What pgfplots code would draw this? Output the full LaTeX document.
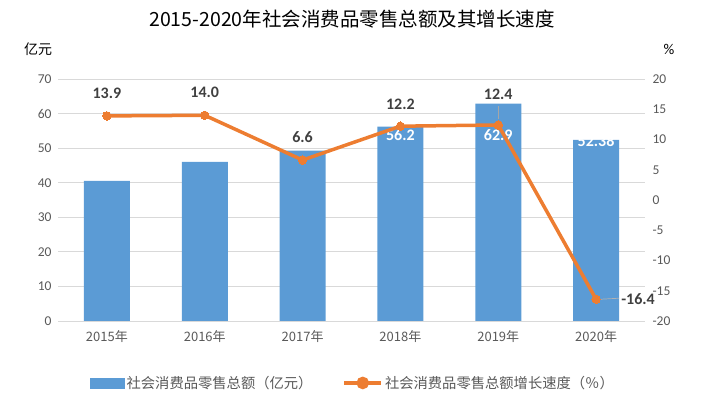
\documentclass[border=0pt]{standalone}
\usepackage{pgfplots}
\pgfplotsset{compat=1.18}
\usepackage{fontspec}
\setmainfont{Carlito}
\newfontfamily\cjk{Noto Sans CJK SC}
\definecolor{barblue}{HTML}{5B9BD5}
\definecolor{lineorange}{HTML}{ED7D31}
\definecolor{gridgray}{HTML}{D9D9D9}
\definecolor{tickgray}{HTML}{595959}
\definecolor{labgray}{HTML}{404040}
\begin{document}
\begin{tikzpicture}[x=1pt,y=1pt]
\path (0,0) rectangle (706,409);
\node[font=\cjk\fontsize{19.5}{19.5}\selectfont, text=black] at (352,390) {2015-2020年社会消费品零售总额及其增长速度};
\node[font=\cjk\fontsize{14}{14}\selectfont] at (38,360) {亿元};
\node[font=\fontsize{15}{15}\selectfont] at (669,360) {\%};
\begin{axis}[
  at={(58pt,88pt)}, anchor=south west, scale only axis,
  width=587pt, height=242pt,
  xmin=-0.5, xmax=5.5, ymin=0, ymax=70,
  ytick={0,10,...,70},
  xtick={0,...,5},
  xticklabels={2015年,2016年,2017年,2018年,2019年,2020年},
  x tick label style={font=\cjk\fontsize{13}{13}\selectfont, text=tickgray, yshift=-6pt},
  y tick label style={font=\fontsize{13.5}{13.5}\selectfont, text=tickgray, xshift=-3pt},
  /pgf/number format/assume math mode=true,
  ymajorgrids, grid style={draw=gridgray, line width=0.9pt},
  axis x line*=bottom, axis y line*=left,
  x axis line style={draw=gridgray, line width=0.9pt, -},
  y axis line style={draw=none},
  tick style={draw=none},
  clip=false,
]
\addplot[ybar, bar width=46pt, fill=barblue, draw=none] coordinates {
(0,40.5) (1,46.0) (2,49.3) (3,56.2) (4,62.9) (5,52.38)};
\node[font=\bfseries\fontsize{16}{16}\selectfont, text=white] at (axis cs:3,53.7) {56.2};
\node[font=\bfseries\fontsize{16}{16}\selectfont, text=white] at (axis cs:4,53.7) {62.9};
\node[font=\bfseries\fontsize{16}{16}\selectfont, text=white] at (axis cs:5,52.0) {52.38};
\end{axis}
\begin{axis}[
  at={(58pt,88pt)}, anchor=south west, scale only axis,
  width=587pt, height=242pt,
  xmin=-0.5, xmax=5.5, ymin=-20, ymax=20,
  ytick={-20,-15,...,20},
  axis x line=none, axis y line*=right,
  y axis line style={draw=none},
  tick style={draw=none},
  y tick label style={font=\fontsize{13.5}{13.5}\selectfont, text=tickgray, anchor=west, xshift=4pt},
  /pgf/number format/assume math mode=true,
  clip=false,
  legend columns=2,
  legend style={at={(0.5026,-0.256)}, anchor=center, draw=none, fill=none,
    font=\cjk\fontsize{14.3}{14.3}\selectfont, text=tickgray,
    /tikz/every even column/.append style={column sep=28pt}},
]
\addlegendimage{legend image code/.code={\fill[barblue] (0pt,-5pt) rectangle (34pt,5pt);}}
\addlegendentry{社会消费品零售总额（亿元）}
\addplot[lineorange, line width=3.5pt, mark=*, mark size=4.2pt, mark options={fill=lineorange, draw=lineorange, line width=0pt},
  legend image code/.code={\draw[lineorange, line width=3.5pt] (0pt,0pt) -- (37pt,0pt); \fill[lineorange] (18.5pt,0pt) circle (4.5pt);}]
  coordinates {(0,13.9) (1,14.0) (2,6.6) (3,12.2) (4,12.4) (5,-16.4)};
\addlegendentry{社会消费品零售总额增长速度（％）}
\draw[gray!70, line width=0.7pt] ([yshift=6pt]axis cs:4,12.4) -- ([yshift=19pt]axis cs:4,12.4);
\draw[gray!60, line width=0.7pt] ([xshift=5pt]axis cs:5,-16.4) -- ([xshift=23pt,yshift=1pt]axis cs:5,-16.4);
\begin{scope}[every node/.style={font=\bfseries\fontsize{16}{16}\selectfont, text=labgray}]
\node at (axis cs:0,13.9) [yshift=23pt] {13.9};
\node at (axis cs:1,14.0) [yshift=23pt] {14.0};
\node at (axis cs:2,6.6) [yshift=23pt] {6.6};
\node at (axis cs:3,12.2) [yshift=22pt] {12.2};
\node at (axis cs:4,12.4) [yshift=31pt] {12.4};
\node at (axis cs:5,-16.4) [xshift=42pt] {-16.4};
\end{scope}
\end{axis}
\end{tikzpicture}
\end{document}
